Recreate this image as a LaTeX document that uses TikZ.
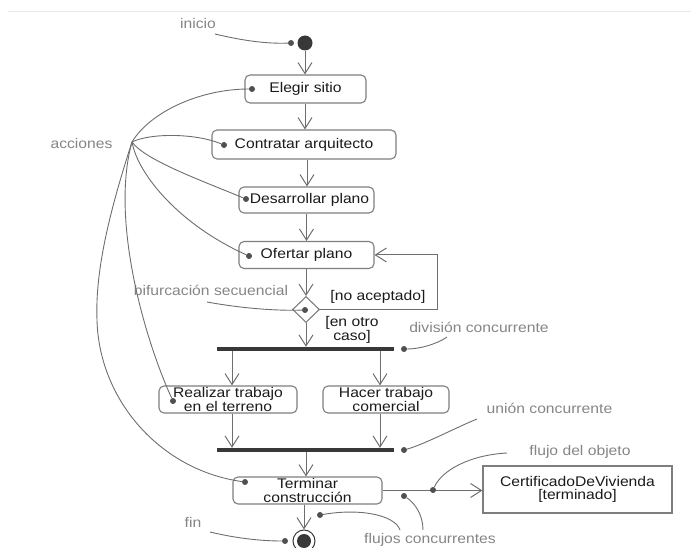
\documentclass[tikz,border=0pt]{standalone}
\usepackage{fontspec}
\setmainfont{Liberation Sans}[FakeStretch=1.12]
\usetikzlibrary{arrows.meta,shapes.geometric}

\definecolor{boxgray}{HTML}{7E7E7E}
\definecolor{linegray}{HTML}{6E6E6E}
\definecolor{labelgray}{HTML}{858585}
\definecolor{dotgray}{HTML}{505050}
\definecolor{bargray}{HTML}{383838}
\definecolor{inkblack}{HTML}{1A1A1A}

\tikzset{
  txt/.style={font=\fontsize{14}{13.5}\selectfont},
  act/.style={txt, draw=boxgray, line width=1.1pt, rounded corners=5pt,
    text=inkblack, align=center, inner sep=0pt},
  obj/.style={txt, draw=boxgray, line width=1.1pt, text=inkblack,
    align=center, inner sep=0pt},
  lbl/.style={txt, text=labelgray, inner sep=0pt, align=center},
  grd/.style={txt, text=inkblack, inner sep=0pt, align=center},
  arr/.style={draw=linegray, line width=1pt,
    -{Straight Barb[length=11pt,width=14pt,line width=1pt]}},
  lead/.style={draw=linegray, line width=0.9pt},
  pin/.style={circle, fill=dotgray, inner sep=0pt, minimum size=6pt},
  bar/.style={rectangle, fill=bargray, inner sep=0pt, minimum height=4pt},
  startnode/.style={circle, fill=bargray, inner sep=0pt, minimum size=15pt},
  endnode/.style={circle, draw=bargray, line width=1pt, inner sep=0pt, minimum size=22pt},
  branch/.style={diamond, draw=boxgray, line width=1.1pt, inner sep=0pt,
    minimum width=27pt, minimum height=26pt},
}

\begin{document}
\begin{tikzpicture}[x=1pt,y=-1pt]
  \useasboundingbox (0,0) rectangle (691,548);
  % thin rule across the top
  \draw[draw=black!9, line width=0.8pt] (8,11) -- (691,11);

  % ---- control nodes ----
  \node[startnode] (ini) at (305,43) {};
  \node[act, minimum width=121pt, minimum height=28pt] (elegir) at (305.5,89) {Elegir sitio};
  \node[act, minimum width=184pt, minimum height=29pt] (contratar) at (304,144.5) {Contratar arquitecto};
  \node[act, minimum width=135pt, minimum height=26pt] (desarrollar) at (306.5,200) {\hspace*{6pt}Desarrollar plano};
  \node[act, minimum width=135pt, minimum height=27pt] (ofertar) at (306.5,255) {Ofertar plano};
  \node[branch] (dia) at (306,309.5) {};
  \node[bar, minimum width=177pt] (fork) at (305.5,349) {};
  \node[act, minimum width=138pt, minimum height=27pt] (realizar) at (228,399.5) {Realizar trabajo\\en el terreno};
  \node[act, minimum width=126pt, minimum height=27pt] (hacer) at (386,399.5) {Hacer trabajo\\comercial};
  \node[bar, minimum width=177pt] (join) at (305.5,450) {};
  \node[act, minimum width=149pt, minimum height=27pt] (terminar) at (307.5,490.5) {Terminar\\construcción};
  \node[obj, minimum width=189pt, minimum height=47pt] (cert) at (577.5,489.5) {CertificadoDeVivienda\\{[terminado]}};
  \node[endnode] (fin) at (304,541) {};
  \fill[bargray] (fin.center) circle (7pt);

  % ---- control flow ----
  \draw[arr] (ini.south) -- (ini.south |- elegir.north);
  \draw[arr] (elegir.south -| ini.south) -- (ini.south |- contratar.north);
  \draw[arr] ([xshift=3pt]contratar.south) -- ([xshift=3pt]contratar.south |- desarrollar.north);
  \draw[arr] (desarrollar.south) -- (ofertar.north);
  \draw[arr] (ofertar.south -| dia.north) -- (dia.north);
  \draw[arr] (dia.south) -- (dia.south |- fork.north);
  \draw[arr] ([xshift=4pt]realizar.north |- fork.south) -- ([xshift=4pt]realizar.north);
  \draw[arr] ([xshift=-6pt]hacer.north |- fork.south) -- ([xshift=-6pt]hacer.north);
  \draw[arr] ([xshift=4pt]realizar.south) -- ([xshift=4pt]realizar.south |- join.north);
  \draw[arr] ([xshift=-6pt]hacer.south) -- ([xshift=-6pt]hacer.south |- join.north);
  \draw[arr] (join.south -| dia.south) -- (dia.south |- terminar.north);
  \draw[arr] (terminar.south -| fin.north) -- (fin.north);
  \coordinate (loopc) at (437,255);
  \draw[arr] (dia.east) -| (loopc) -- (ofertar.east);
  \draw[arr] (terminar.east) -- (terminar.east -| cert.west);

  % ---- guard labels ----
  \node[grd] (noacept) at (378,297) {[no aceptado]};
  \node[grd] (otro) at (352,330) {[en otro\\caso]};

  % ---- annotation labels ----
  \node[lbl] (linicio) at (198,23) {inicio};
  \node[lbl] (lacciones) at (81.5,143) {acciones};
  \node[lbl] (lbif) at (211,290) {bifurcación secuencial};
  \node[lbl] (ldiv) at (479,327) {división concurrente};
  \node[lbl] (luni) at (549.5,408) {unión concurrente};
  \node[lbl] (lobj) at (580,452) {flujo del objeto};
  \node[lbl] (lflu) at (430,540) {flujos concurrentes};
  \node[lbl] (lfin) at (193,522) {fin};

  % ---- annotation pins ----
  \node[pin] (pini) at (291,43) {};
  \node[pin] (pel) at (252,89) {};
  \node[pin] (pco) at (224,145) {};
  \node[pin] (pde) at (246,199) {};
  \node[pin] (pof) at (249,256) {};
  \node[pin] (pdia) at (305,310) {};
  \node[pin] (pre) at (173,401) {};
  \node[pin] (pte) at (245,482) {};
  \node[pin] (pfork) at (404,349) {};
  \node[pin] (pjoin) at (404,450) {};
  \node[pin] (pobj) at (433,490) {};
  \node[pin] (pfl1) at (404,496) {};
  \node[pin] (pfl2) at (320,515) {};
  \node[pin] (pfin) at (285,541) {};

  % ---- annotation leaders ----
  \coordinate (hub) at (132,142);
  \coordinate (tini) at (215,34);
  \coordinate (tbif) at (207,302);
  \coordinate (tdiv) at (447,337);
  \coordinate (tuni) at (477,419);
  \coordinate (tobj) at (507,453);
  \coordinate (tfl1) at (423,530);
  \coordinate (tfl2) at (400,530);
  \coordinate (tfin) at (210,532);
  \coordinate (bend) at (97,320);

  \draw[lead] (tini) .. controls (240,40) and (265,44) .. (pini);
  \draw[lead] (hub) .. controls (150,112) and (200,89) .. (pel);
  \draw[lead] (hub) .. controls (150,133) and (195,133) .. (pco);
  \draw[lead] (hub) .. controls (145,160) and (200,180) .. (pde);
  \draw[lead] (hub) .. controls (138,175) and (180,225) .. (pof);
  \draw[lead] (hub) .. controls (110,220) and (145,340) .. (pre);
  \draw[lead] (hub) .. controls (110,210) and (95,270) .. (bend)
                    .. controls (99,400) and (160,470) .. (pte);
  \draw[lead] (tbif) .. controls (240,308) and (275,311) .. (pdia);
  \draw[lead] (pfork) .. controls (420,349) and (437,344) .. (tdiv);
  \draw[lead] (pjoin) .. controls (425,444) and (455,428) .. (tuni);
  \draw[lead] (pobj) .. controls (442,470) and (470,455) .. (tobj);
  \draw[lead] (pfl1) .. controls (415,503) and (423,515) .. (tfl1);
  \draw[lead] (pfl2) .. controls (360,508) and (395,515) .. (tfl2);
  \draw[lead] (tfin) .. controls (235,538) and (260,541) .. (pfin);
\end{tikzpicture}
\end{document}
